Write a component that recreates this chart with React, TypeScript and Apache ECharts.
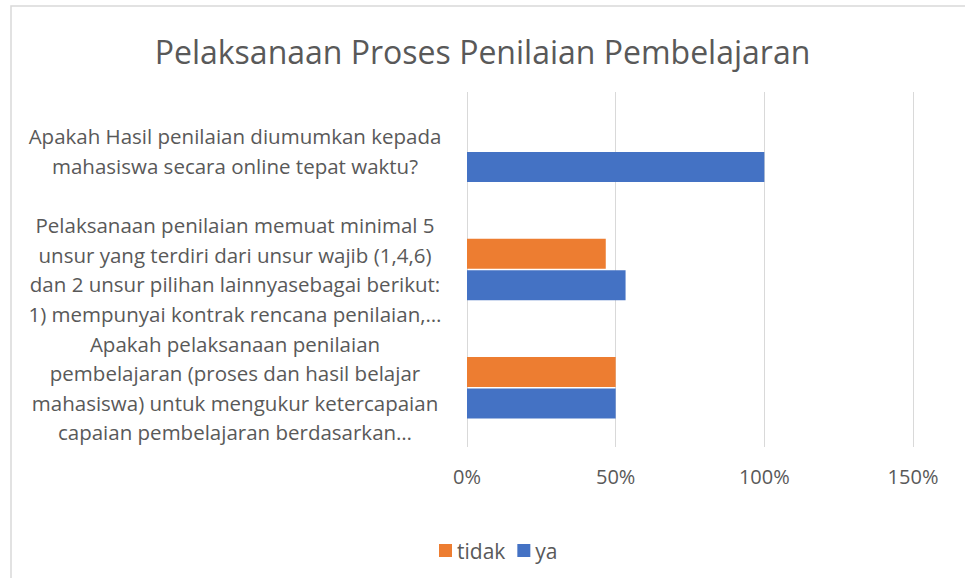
import React, { useEffect, useRef } from "react";
import * as echarts from "echarts";

const categories = [
  "Apakah pelaksanaan penilaian\npembelajaran (proses dan hasil belajar\nmahasiswa) untuk mengukur ketercapaian\ncapaian pembelajaran berdasarkan…",
  "Pelaksanaan penilaian memuat minimal 5\nunsur yang terdiri dari unsur wajib (1,4,6)\ndan 2 unsur pilihan lainnyasebagai berikut:\n1) mempunyai kontrak rencana penilaian,…",
  "Apakah Hasil penilaian diumumkan kepada\nmahasiswa secara online tepat waktu?",
];
const tidakValues = [50, 46.67, 0];
const yaValues = [50, 53.33, 100];
const xTicks = [0, 50, 100, 150];

const TEXT = "#595959";
const FONT = "Open Sans";

export default function App() {
  const ref = useRef<HTMLDivElement>(null);
  useEffect(() => {
    if (!ref.current) return;
    const chart = echarts.init(ref.current, undefined, { renderer: "svg" });
    chart.setOption({
      animation: false,
      backgroundColor: "#ffffff",
      title: {
        text: "Pelaksanaan Proses Penilaian Pembelajaran",
        left: "center",
        top: 30,
        textStyle: { fontFamily: FONT, fontSize: 32, fontWeight: "normal", color: TEXT },
      },
      legend: {
        data: ["tidak", "ya"],
        left: 434,
        top: 535,
        itemWidth: 13,
        itemHeight: 13,
        itemGap: 12,
        icon: "rect",
        textStyle: { fontFamily: FONT, fontSize: 21, color: TEXT },
      },
      grid: { left: 467, right: 52, top: 92, bottom: 131 },
      xAxis: {
        type: "value",
        min: xTicks[0],
        max: xTicks[xTicks.length - 1],
        interval: 50,
        axisLine: { show: false },
        axisTick: { show: false },
        splitLine: { show: true, lineStyle: { color: "#d9d9d9", width: 1 } },
        axisLabel: {
          formatter: (v: number) => v + "%",
          fontFamily: FONT,
          fontSize: 20,
          color: TEXT,
          margin: 19,
        },
      },
      yAxis: {
        type: "category",
        data: categories,
        axisLine: { show: false },
        axisTick: { show: false },
        axisLabel: {
          fontFamily: FONT,
          fontSize: 20.5,
          color: TEXT,
          align: "center",
          margin: 232,
          lineHeight: 29.5,
        },
      },
      series: [
        {
          name: "tidak",
          type: "bar",
          data: tidakValues,
          barWidth: 30,
          barGap: "5%",
          itemStyle: { color: "#ED7D31" },
        },
        {
          name: "ya",
          type: "bar",
          data: yaValues,
          barWidth: 30,
          barGap: "5%",
          itemStyle: { color: "#4472C4" },
        },
      ],
      graphic: [
        {
          type: "rect",
          shape: { x: 11, y: 6, width: 1000, height: 1000 },
          style: { fill: "none", stroke: "#d9d9d9", lineWidth: 1.5 },
          silent: true,
        },
      ],
    });
    return () => chart.dispose();
  }, []);
  return (
    <div
      ref={ref}
      style={{ position: "fixed", left: 0, top: 0, width: 965, height: 578 }}
    />
  );
}
